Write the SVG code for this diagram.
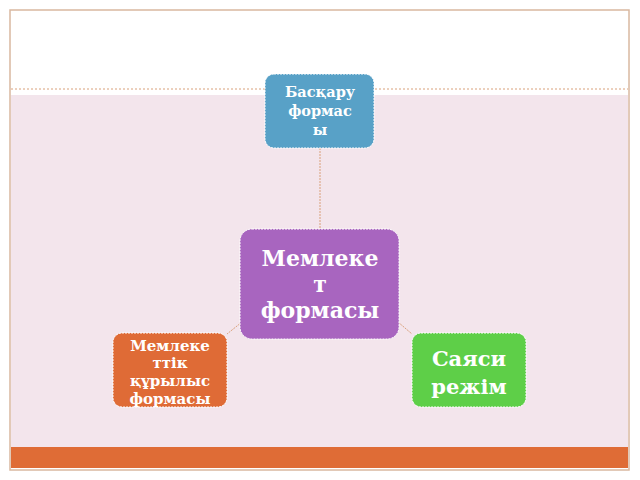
<svg xmlns="http://www.w3.org/2000/svg" width="640" height="480" viewBox="0 0 640 480">
<style>
.t{font-family:"DejaVu Serif","Liberation Serif",serif;font-weight:bold;fill:#fff;text-anchor:middle}
.n{stroke:#fff;stroke-width:1;stroke-dasharray:2 1}
.c{stroke:#d9a07a;stroke-width:1;stroke-dasharray:2 1;fill:none}
</style>
<rect x="0" y="0" width="640" height="480" fill="#fff"/>
<rect x="10" y="10" width="619" height="460" fill="#fff" stroke="#d9b8a0" stroke-width="1.5"/>
<rect x="11" y="95" width="617" height="352" fill="#f3e5ec"/>
<line x1="11" y1="89" x2="628" y2="89" stroke="#d9a07a" stroke-dasharray="2 2"/>
<rect x="11" y="447" width="617" height="21" fill="#df6c36"/>
<g id="connectors">
<line class="c" x1="320" y1="148" x2="320" y2="229"/>
<line class="c" x1="242" y1="322" x2="227" y2="334"/>
<line class="c" x1="398" y1="322" x2="412" y2="334"/>
</g>
<g id="n1"><rect class="n" x="265" y="74" width="109" height="74" rx="9" fill="#58a1c7"/>
<text class="t" font-size="14.5"><tspan x="320" y="97">Басқару</tspan><tspan x="320" y="116">формас</tspan><tspan x="320" y="135">ы</tspan></text></g>
<g id="n2"><rect class="n" x="240" y="229" width="159" height="110" rx="12" fill="#a865bf"/>
<text class="t" font-size="22"><tspan x="320" y="266">Мемлеке</tspan><tspan x="320" y="292">т</tspan><tspan x="320" y="318">формасы</tspan></text></g>
<g id="n3"><rect class="n" x="113" y="333" width="114" height="74" rx="9" fill="#df6b36"/>
<text class="t" font-size="15"><tspan x="170" y="351">Мемлеке</tspan><tspan x="170" y="368">ттік</tspan><tspan x="170" y="386">құрылыс</tspan><tspan x="170" y="404">формасы</tspan></text></g>
<g id="n4"><rect class="n" x="412" y="333" width="114" height="74" rx="9" fill="#5ecf48"/>
<text class="t" font-size="21"><tspan x="469" y="366">Саяси</tspan><tspan x="469" y="394">режім</tspan></text></g>
</svg>
